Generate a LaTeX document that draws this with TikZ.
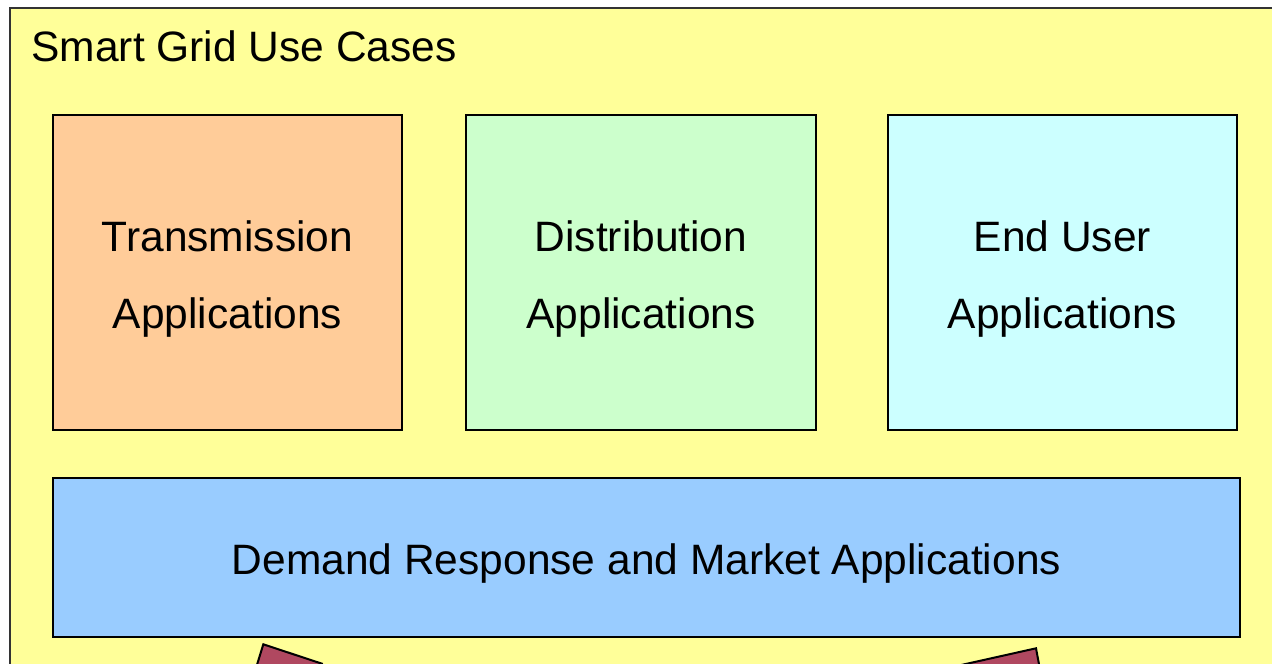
\documentclass[tikz,border=0pt]{standalone}
\usepackage{fontspec}
\setmainfont{Liberation Sans}
\usepackage{tikz}

\definecolor{outerfill}{RGB}{255,255,153}
\definecolor{transfill}{RGB}{255,204,153}
\definecolor{distfill}{RGB}{204,255,204}
\definecolor{userfill}{RGB}{204,255,255}
\definecolor{demandfill}{RGB}{153,204,255}
\definecolor{arrowfill}{RGB}{176,72,96}

\newcommand{\appstrut}{\rule{0pt}{43pt}}

\tikzset{
  appbox/.style={draw=black, line width=2pt, align=center, inner sep=0pt,
                 font=\fontsize{42.5}{77}\selectfont},
}

\begin{document}
\begin{tikzpicture}[x=1pt,y=-1pt]
                    \clip (0,0) rectangle (1272,664);
                    \useasboundingbox (0,0) rectangle (1272,664);
                    % outer frame
                    \draw[fill=outerfill, draw=black!80, line width=2pt] (10,8) rectangle (1300,700);
                    \node[anchor=west, font=\fontsize{42.5}{50}\selectfont] (title) at (28,46) {Smart Grid Use Cases};
                    % application boxes
                    \node[appbox, fill=transfill, minimum width=349pt, minimum height=315pt] (trans) at (227.5,272.5) {\appstrut Transmission\\Applications};
                    \node[appbox, fill=distfill, minimum width=350pt, minimum height=315pt] (dist) at (641,272.5) {\appstrut Distribution\\Applications};
                    \node[appbox, fill=userfill, minimum width=349pt, minimum height=315pt] (user) at (1062.5,272.5) {\appstrut End User\\Applications};
                    \node[appbox, fill=demandfill, minimum width=1187pt, minimum height=159pt] (demand) at (646.5,557.5) {\appstrut Demand Response and Market Applications};
                    % arrows coming up from below
                    \draw[fill=arrowfill, line width=2pt, line join=miter] (263.3,644.3) -- (322,663.7) -- (340,720) -- (240,720) -- cycle;
                    \draw[fill=arrowfill, line width=2pt, line join=miter] (1036,648.3) -- (1042,680) -- (960,720) -- (950,667.5) -- cycle;
                \end{tikzpicture}
\end{document}
